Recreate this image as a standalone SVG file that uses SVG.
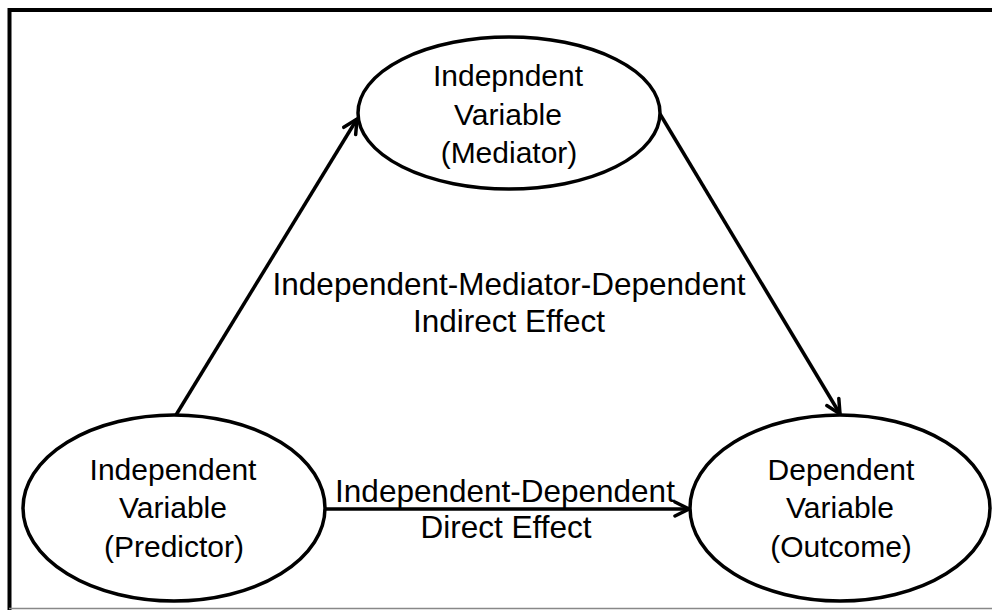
<svg xmlns="http://www.w3.org/2000/svg" width="992" height="610" viewBox="0 0 992 610">
<style>
.node ellipse{fill:#fff;stroke:#000;stroke-width:3.5}
.lbl{font-family:"Liberation Sans",Arial,sans-serif;font-size:30px;fill:#000;text-anchor:middle}
.elbl{font-family:"Liberation Sans",Arial,sans-serif;font-size:31.5px;fill:#000;text-anchor:middle}
.conn line{stroke:#000;stroke-width:3.5;fill:none}
</style>
<defs>
<marker id="arr" markerUnits="userSpaceOnUse" viewBox="0 0 20 20" refX="18" refY="10" markerWidth="20" markerHeight="20" orient="auto">
<path d="M4,3 L18,10 L4,17" fill="none" stroke="#000" stroke-width="3.5" stroke-linecap="round" stroke-linejoin="miter"/>
</marker>
</defs>
<rect width="992" height="610" fill="#fff"/>
<g id="frame">
<line x1="9.5" y1="10" x2="992" y2="10" stroke="#000" stroke-width="4"/>
<line x1="9.5" y1="8" x2="9.5" y2="610" stroke="#000" stroke-width="4"/>
<line x1="9" y1="608.5" x2="992" y2="608.5" stroke="#888" stroke-width="1.5"/>
</g>
<g id="connectors" class="conn">
<line x1="176" y1="415" x2="357" y2="119" marker-end="url(#arr)"/>
<line x1="660" y1="114" x2="840" y2="414" marker-end="url(#arr)"/>
<line x1="325" y1="509" x2="689" y2="509" marker-end="url(#arr)"/>
</g>
<g id="mediator" class="node">
<ellipse cx="509" cy="113" rx="151" ry="76"/>
<text class="lbl" x="508" y="86">Indepndent</text>
<text class="lbl" x="508" y="125">Variable</text>
<text class="lbl" x="509" y="163">(Mediator)</text>
</g>
<g id="predictor" class="node">
<ellipse cx="174" cy="508" rx="151" ry="93"/>
<text class="lbl" x="173" y="480">Independent</text>
<text class="lbl" x="173" y="518">Variable</text>
<text class="lbl" x="174" y="557">(Predictor)</text>
</g>
<g id="outcome" class="node">
<ellipse cx="840" cy="508" rx="150" ry="93"/>
<text class="lbl" x="841" y="480">Dependent</text>
<text class="lbl" x="840" y="518">Variable</text>
<text class="lbl" x="841" y="557">(Outcome)</text>
</g>
<g id="edge-labels">
<text class="elbl" x="509" y="295">Independent-Mediator-Dependent</text>
<text class="elbl" x="509" y="332">Indirect Effect</text>
<text class="elbl" x="505" y="502">Independent-Dependent</text>
<text class="elbl" x="506" y="538">Direct Effect</text>
</g>
</svg>
